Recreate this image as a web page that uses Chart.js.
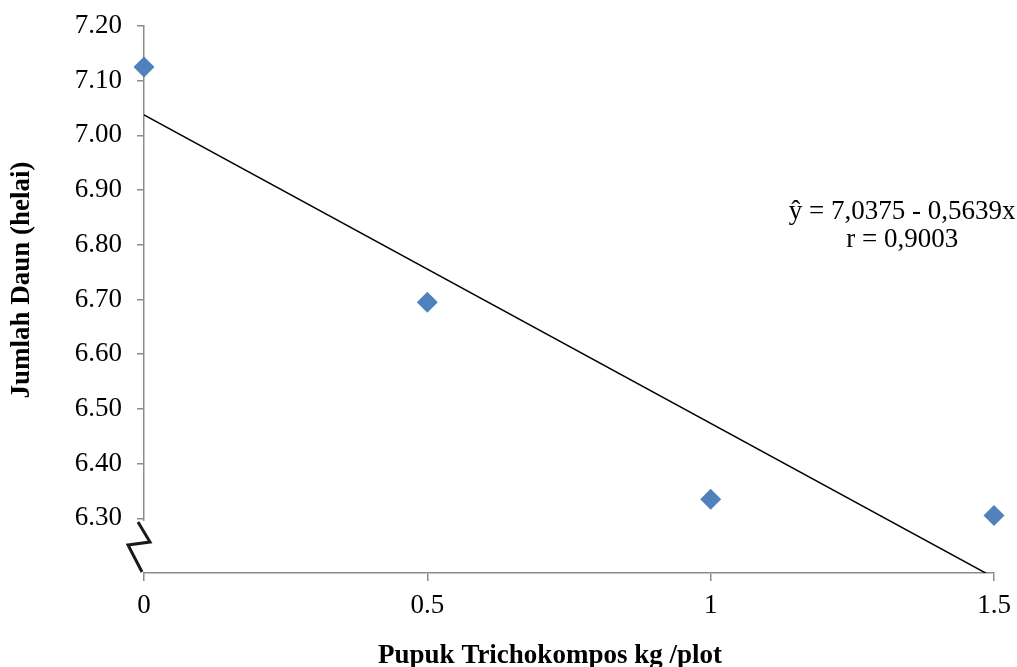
<!doctype html>
<html>
  <head>
    <meta charset="utf-8" />
    <title>Jumlah Daun</title>
    <script src="https://cdn.jsdelivr.net/npm/chart.js@4/dist/chart.umd.min.js"></script>
    <style>
html, body {
  margin: 0;
  padding: 0;
  background: #fff;
}
#wrap {
  width: 1017px;
  height: 667px;
}
</style>
  </head>
  <body>
    <div id="wrap"><canvas id="myChart" width="1017" height="667"></canvas></div>
    <script>
      // dosis pupuk (kg/plot) dan jumlah daun
      const dosis = [0, 0.5, 1, 1.5];
      const jumlahDaun = [7.125, 6.695, 6.335, 6.305];
      // garis regresi y = a + b x
      const a = 7.0375;
      const b = -0.5639;
      const persamaan = ['ŷ = 7,0375 - 0,5639x', 'r = 0,9003'];
      const xTicks = [0, 0.5, 1, 1.5];
      const judulX = 'Pupuk Trichokompos kg /plot';
      const judulY = 'Jumlah Daun (helai)';

      const fontFamily = '"Liberation Serif", "Times New Roman", serif';
      const axisColor = '#8c8c8c';

      const garis = [
        {x: dosis[0], y: a + b * dosis[0]},
        {x: dosis[dosis.length - 1], y: a + b * dosis[dosis.length - 1]},
      ];

      // tanda patah sumbu y, judul sumbu, teks persamaan
      const extras = {
        id: 'extras',
        afterDraw(chart) {
          const ctx = chart.ctx;
          const xs = chart.scales.x;
          const ys = chart.scales.y;
          const x0 = xs.getPixelForValue(0);
          const yb = ys.getPixelForValue(6.2);
          ctx.save();
          ctx.fillStyle = '#fff';
          ctx.fillRect(x0 - 17, yb - 52, 26, 51);
          ctx.strokeStyle = '#1a1a1a';
          ctx.lineWidth = 3;
          ctx.lineJoin = 'miter';
          ctx.beginPath();
          ctx.moveTo(x0 - 6, yb - 51);
          ctx.lineTo(x0 + 6, yb - 31);
          ctx.lineTo(x0 - 16, yb - 28);
          ctx.lineTo(x0 - 2, yb - 1);
          ctx.stroke();

          ctx.fillStyle = '#000';
          ctx.font = '27px ' + fontFamily;
          ctx.textAlign = 'center';
          ctx.textBaseline = 'alphabetic';
          const tx = xs.getPixelForValue(1.338);
          ctx.fillText(persamaan[0], tx, ys.getPixelForValue(6.847));
          ctx.fillText(persamaan[1], tx, ys.getPixelForValue(6.796));

          ctx.font = 'bold 27px ' + fontFamily;
          ctx.fillText(judulX, 550, 663);
          ctx.translate(29, 280);
          ctx.rotate(-Math.PI / 2);
          ctx.fillText(judulY, 0, 0);
          ctx.restore();
        }
      };

      const config = {
        type: 'scatter',
        data: {
          datasets: [
            {
              label: 'Regresi',
              type: 'line',
              data: garis,
              borderColor: '#000',
              borderWidth: 1.5,
              pointRadius: 0,
              fill: false,
              order: 2,
            },
            {
              label: 'Jumlah Daun',
              data: dosis.map((x, i) => ({x: x, y: jumlahDaun[i]})),
              pointStyle: 'rectRot',
              pointRadius: 10.5,
              pointHoverRadius: 10.5,
              backgroundColor: '#4F81BD',
              borderColor: '#4F81BD',
              borderWidth: 0,
              clip: false,
              order: 1,
            },
          ]
        },
        options: {
          animation: false,
          responsive: false,
          layout: {padding: {left: 0, top: 26, right: 23, bottom: 0}},
          plugins: {
            legend: {display: false},
            tooltip: {enabled: false},
          },
          scales: {
            x: {
              type: 'linear',
              min: 0,
              max: 1.5,
              afterBuildTicks(scale) {
                scale.ticks = xTicks.map(v => ({value: v}));
              },
              afterFit(scale) {
                scale.height = 94;
                scale.paddingLeft = 0;
                scale.paddingRight = 0;
              },
              border: {color: axisColor, width: 1.5},
              grid: {drawOnChartArea: false, drawTicks: true, tickLength: 8, color: axisColor, lineWidth: 1.5},
              ticks: {
                color: '#000',
                padding: 9,
                maxRotation: 0,
                font: {family: fontFamily, size: 27},
                callback: v => String(v),
              },
            },
            y: {
              min: 6.2,
              max: 7.2,
              afterFit(scale) {
                scale.width = 144;
                scale.paddingTop = 0;
                scale.paddingBottom = 0;
              },
              border: {color: axisColor, width: 1.5},
              grid: {
                drawOnChartArea: false,
                drawTicks: true,
                tickLength: 7,
                lineWidth: 1.5,
                tickColor: c => (c.tick && Math.abs(c.tick.value - 6.2) < 1e-6) ? 'rgba(0,0,0,0)' : axisColor,
              },
              ticks: {
                stepSize: 0.1,
                color: '#000',
                padding: 15,
                font: {family: fontFamily, size: 27},
                callback: v => Math.abs(v - 6.2) < 1e-6 ? '' : v.toFixed(2),
              },
            },
          }
        },
        plugins: [extras],
      };

      const myChart = new Chart(document.getElementById('myChart'), config);
    </script>
  </body>
</html>
